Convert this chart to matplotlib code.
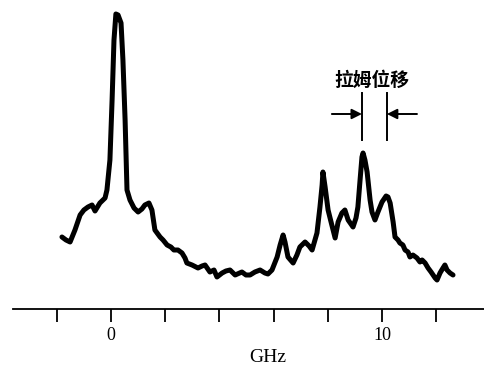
import matplotlib.pyplot as plt

# spectrum (GHz, arbitrary intensity)
freq = [-1.81, -1.66, -1.51, -1.33, -1.14, -1.00, -0.85, -0.70, -0.59, -0.41,
        -0.22, -0.15, -0.04, 0.04, 0.11, 0.18, 0.26, 0.37, 0.44, 0.52,
        0.59, 0.70, 0.85, 1.00, 1.14, 1.25, 1.40, 1.51, 1.62, 1.81,
        1.92, 2.07, 2.21, 2.32, 2.47, 2.62, 2.73, 2.80, 2.99, 3.21,
        3.36, 3.47, 3.65, 3.80, 3.91, 4.10, 4.24, 4.39, 4.58, 4.83,
        4.98, 5.13, 5.31, 5.50, 5.68, 5.79, 5.94, 6.13, 6.24, 6.35,
        6.42, 6.53, 6.72, 6.86, 6.97, 7.16, 7.31, 7.42, 7.60, 7.71,
        7.79, 7.82, 7.90, 8.01, 8.12, 8.27, 8.38, 8.52, 8.63, 8.75,
        8.93, 9.04, 9.11, 9.19, 9.26, 9.30, 9.37, 9.45, 9.56, 9.63,
        9.74, 9.85, 10.00, 10.15, 10.22, 10.30, 10.41, 10.48, 10.59, 10.66,
        10.77, 10.85, 10.96, 11.03, 11.14, 11.29, 11.40, 11.48, 11.59, 11.70,
        11.81, 11.96, 12.03, 12.14, 12.25, 12.32, 12.40, 12.51, 12.62]
intensity = [72, 69, 67, 79, 94, 99, 102, 104, 98, 106,
             111, 119, 149, 209, 269, 295, 294, 286, 249, 189,
             119, 109, 101, 97, 100, 104, 106, 99, 79, 72,
             69, 64, 62, 59, 59, 56, 51, 46, 44, 41,
             43, 44, 37, 39, 32, 36, 38, 39, 34, 37,
             34, 34, 37, 39, 36, 35, 39, 52, 64, 74,
             67, 52, 46, 54, 62, 67, 63, 59, 76, 102,
             124, 137, 122, 99, 87, 71, 87, 96, 99, 89,
             82, 91, 102, 129, 152, 156, 149, 137, 109, 97,
             89, 97, 107, 113, 112, 106, 87, 72, 69, 66,
             64, 59, 57, 52, 54, 51, 47, 49, 46, 41,
             37, 31, 29, 36, 41, 44, 39, 36, 34]

ticks = [-2, 0, 2, 4, 6, 8, 10, 12]
tick_labels = ['', '0', '', '', '', '', '10', '']

# the two lines of the Lamb shift marker (GHz)
lamb_left, lamb_right = 9.26, 10.18

fig = plt.figure(figsize=(4.85, 3.67), dpi=100)
ax = fig.add_axes([0, 0, 1, 1])
ax.plot(freq, intensity, color='black', lw=3.6,
        solid_joinstyle='round', solid_capstyle='round')

ax.set_xlim(-4.096, 13.80)
ax.set_ylim(-58, 309)

for s in ['left', 'right', 'top']:
    ax.spines[s].set_visible(False)
ax.spines['bottom'].set_position(('data', 0))
ax.spines['bottom'].set_bounds(-3.62, 13.8)
ax.spines['bottom'].set_linewidth(1.3)
ax.set_yticks([])
ax.set_xticks(ticks)
ax.set_xticklabels(tick_labels, family='Liberation Serif', fontsize=13)
ax.tick_params(axis='x', direction='out', length=9.5, width=1.3, pad=3.5)

# Lamb shift annotation
for xv in (lamb_left, lamb_right):
    ax.plot([xv, xv], [169, 216], color='black', lw=1.4)
ax.annotate('', xy=(lamb_left, 195), xytext=(8.15, 195),
            arrowprops=dict(arrowstyle='-|>', color='black', lw=1.4,
                            mutation_scale=15, shrinkA=0, shrinkB=0))
ax.annotate('', xy=(lamb_right, 195), xytext=(11.29, 195),
            arrowprops=dict(arrowstyle='-|>', color='black', lw=1.4,
                            mutation_scale=15, shrinkA=0, shrinkB=0))
ax.text(9.63, 229, '拉姆位移', ha='center', va='center', fontsize=13.5,
        fontweight='bold', family=['Noto Sans CJK SC', 'DejaVu Sans'])

fig.text(268 / 485, 1 - 362 / 367, 'GHz', ha='center', va='baseline',
         family='Liberation Serif', fontsize=14)

fig.savefig('out.png', dpi=100)
